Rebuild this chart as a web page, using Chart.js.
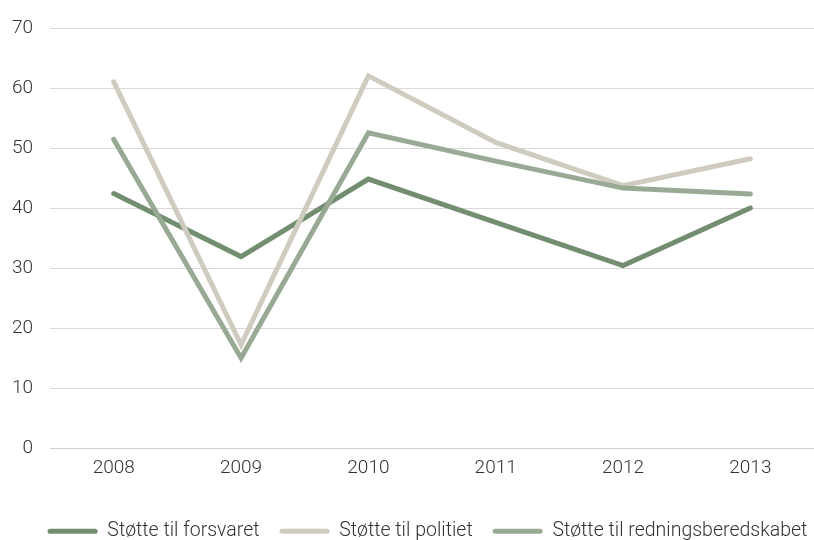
<!DOCTYPE html>
<html>
<head>
<meta charset="utf-8">
<script src="https://cdn.jsdelivr.net/npm/chart.js@4/dist/chart.umd.min.js"></script>
<style>
  html, body { margin: 0; padding: 0; background: #fff; }
  #wrap { width: 814px; height: 540px; }
</style>
</head>
<body>
<div id="wrap"><canvas id="linje"></canvas></div>
<script>
// år på x-aksen
const years = ['2008', '2009', '2010', '2011', '2012', '2013'];

// støtte i prosent, lest av figuren
const forsvaret = [42.5, 32.0, 44.9, 37.7, 30.5, 40.1];
const politiet = [61.1, 17.3, 62.1, 51.0, 43.8, 48.3];
const redning = [51.5, 15.1, 52.6, 47.9, 43.4, 42.4];

const labels = ['Støtte til forsvaret', 'Støtte til politiet', 'Støtte til redningsberedskabet'];
const colors = ['#728d70', '#cfcbbf', '#98a994'];

const textColor = '#333333';
const fontFamily = 'Roboto, "Noto Sans", sans-serif';

function serie(i, values, order) {
    return {
        label: labels[i],
        data: values,
        borderColor: colors[i],
        backgroundColor: colors[i],
        borderWidth: 5,
        borderCapStyle: 'round',
        borderJoinStyle: 'miter',
        pointRadius: 0,
        pointHoverRadius: 0,
        tension: 0,
        fill: false,
        order: order
    };
}

// legenden står litt til høyre for midten i originalen
const flyttLegende = {
    id: 'flyttLegende',
    afterLayout(chart) {
        chart.legend.left += 23;
        chart.legend.right += 23;
    }
};

const ctx = document.getElementById('linje').getContext('2d');
const chart = new Chart(ctx, {
    type: 'line',
    data: {
        labels: years,
        datasets: [
            serie(0, forsvaret, 3),
            serie(1, politiet, 2),
            serie(2, redning, 1)
        ]
    },
    plugins: [flyttLegende],
    options: {
        responsive: true,
        maintainAspectRatio: false,
        animation: false,
        layout: {
            padding: { left: -5, right: 0, top: 19, bottom: -11 }
        },
        plugins: {
            tooltip: { enabled: false },
            legend: {
                position: 'bottom',
                labels: {
                    boxWidth: 50,
                    boxHeight: 5,
                    useBorderRadius: true,
                    borderRadius: 2.5,
                    padding: 20,
                    color: textColor,
                    font: { family: fontFamily, size: 19.5, weight: 300 },
                    generateLabels: function (c) {
                        const items = Chart.defaults.plugins.legend.labels.generateLabels(c);
                        items.forEach(it => { it.lineWidth = 0; });
                        return items.sort((a, b) => a.datasetIndex - b.datasetIndex);
                    }
                }
            }
        },
        scales: {
            x: {
                offset: true,
                grid: { display: false, drawTicks: false },
                border: { display: true, color: '#d0d0d0', width: 1 },
                ticks: {
                    color: textColor,
                    padding: 8,
                    font: { family: fontFamily, size: 19, weight: 300 }
                },
                afterFit: function (scale) { scale.height += 14; }
            },
            y: {
                min: 0,
                max: 70,
                ticks: {
                    stepSize: 10,
                    color: textColor,
                    padding: 17,
                    font: { family: fontFamily, size: 19, weight: 300 }
                },
                grid: { color: '#d9d9d9', lineWidth: 1, drawTicks: false },
                border: { display: false }
            }
        }
    }
});
</script>
</body>
</html>
